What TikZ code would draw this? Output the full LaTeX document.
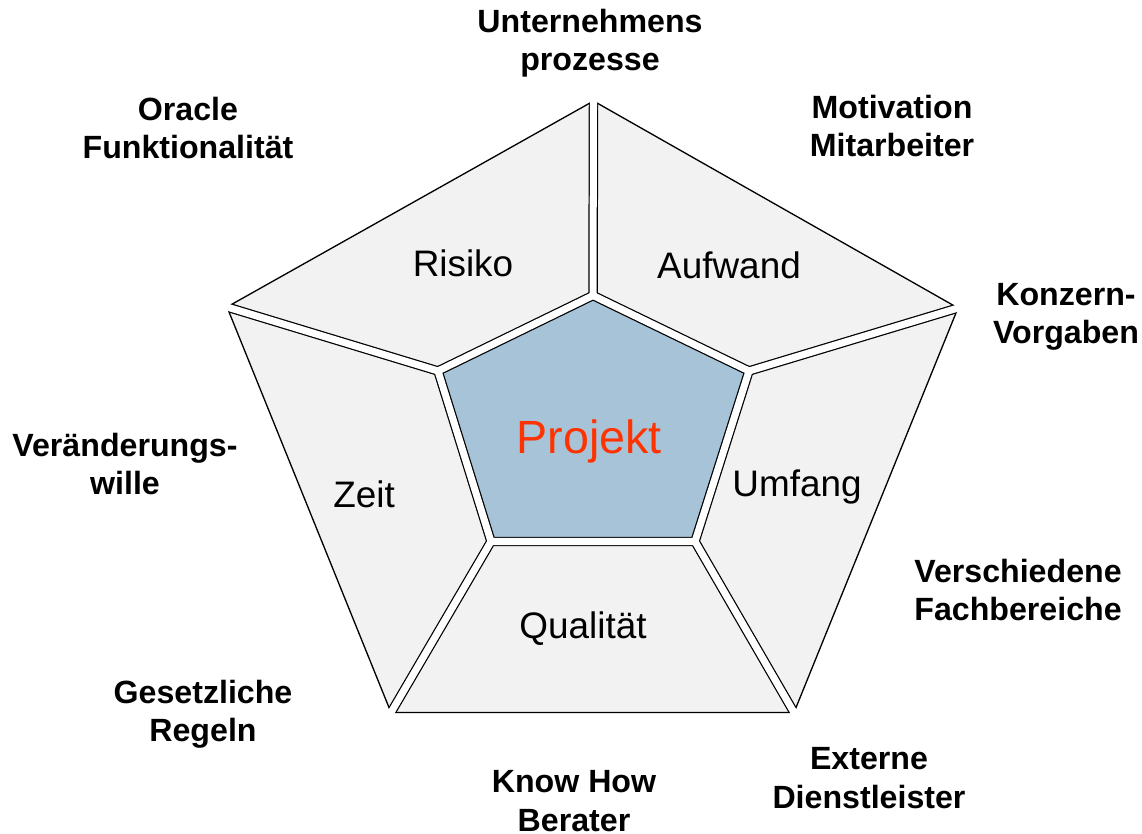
\documentclass[tikz,border=0pt]{standalone}
\usepackage{fontspec}
\setmainfont{Liberation Sans}
\usepackage{tikz}
\usepackage{xcolor}

\definecolor{segGray}{RGB}{242,242,242}
\definecolor{kernBlau}{RGB}{167,195,216}
\definecolor{projRot}{RGB}{255,51,0}

\begin{document}
\begin{tikzpicture}[x=0.02cm,y=-0.02cm,
    einfluss/.style={font=\bfseries\fontsize{18.3}{21.8}\selectfont, align=center},
    segment/.style={font=\fontsize{21}{25}\selectfont},
    spalt/.style={line width=5.4pt, line join=miter},
    luecke/.style={white, line width=4pt, line join=miter}]
    \useasboundingbox (0,0) rectangle (1142,834);
    % Eckpunkte aussen
    \coordinate (ot) at (593.5,101);
    \coordinate (ol) at (227,307);
    \coordinate (or) at (958,308);
    \coordinate (obl) at (391,712.5);
    \coordinate (obr) at (794,712.5);
    % Eckpunkte innen
    \coordinate (it) at (593,295.5);
    \coordinate (il) at (438,371);
    \coordinate (ir) at (749,371);
    \coordinate (ibl) at (491,541.5);
    \coordinate (ibr) at (695,541.5);
    % Flaechen
    \fill[segGray] (ot)--(or)--(obr)--(obl)--(ol)--cycle;
    \fill[kernBlau] (it)--(ir)--(ibr)--(ibl)--(il)--cycle;
    % Trennlinien
    \begin{scope}
        \clip (ot)--(or)--(obr)--(obl)--(ol)--cycle;
        \draw[spalt] (it)--(ot);
        \draw[spalt] (ir)--(or);
        \draw[spalt] (ibr)--(obr);
        \draw[spalt] (ibl)--(obl);
        \draw[spalt] (il)--(ol);
        \draw[spalt] (it)--(ir)--(ibr)--(ibl)--(il)--cycle;
    \end{scope}
    \draw[line width=0.75pt, line join=miter] (ot)--(or)--(obr)--(obl)--(ol)--cycle;
    \draw[luecke, shorten >=-6pt] (it)--(ot);
    \draw[luecke, shorten >=-6pt] (ir)--(or);
    \draw[luecke, shorten >=-6pt] (ibr)--(obr);
    \draw[luecke, shorten >=-6pt] (ibl)--(obl);
    \draw[luecke, shorten >=-6pt] (il)--(ol);
    \draw[luecke] (it)--(ir)--(ibr)--(ibl)--(il)--cycle;
    % Beschriftung der Segmente
    \node[segment] (risiko) at (463,263) {Risiko};
    \node[segment] (aufwand) at (729,265) {Aufwand};
    \node[segment] (zeit) at (364,494) {Zeit};
    \node[segment] (umfang) at (797,487) {Umfang};
    \node[segment] (qualitaet) at (583,629) {Qualität};
    \node[font=\fontsize{26.5}{30}\selectfont, text=projRot] (projekt) at (589,441) {Projekt};
    % Einflussfaktoren
    \node[einfluss] (prozesse) at (590,43) {Unternehmens\\prozesse};
    \node[einfluss] (oracle) at (188,128) {Oracle\\Funktionalität};
    \node[einfluss] (motivation) at (892,126) {Motivation\\Mitarbeiter};
    \node[einfluss] (konzern) at (1066,317) {Konzern-\\Vorgaben};
    \node[einfluss] (wille) at (125,464) {Veränderungs-\\wille};
    \node[einfluss] (fachbereiche) at (1018,590) {Verschiedene\\Fachbereiche};
    \node[einfluss] (regeln) at (203,714) {Gesetzliche\\Regeln};
    \node[einfluss] (dienstleister) at (869,778) {Externe\\Dienstleister};
    \node[einfluss] (berater) at (574,801) {Know How\\Berater};
\end{tikzpicture}
\end{document}
